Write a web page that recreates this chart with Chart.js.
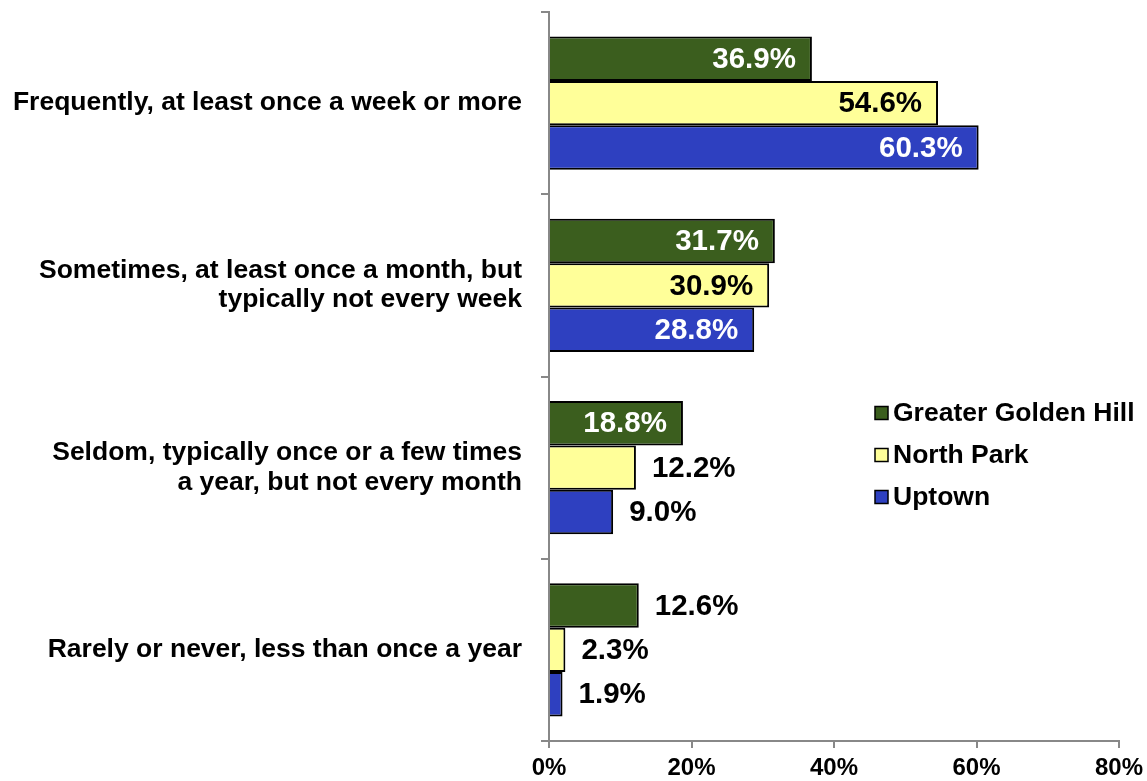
<!DOCTYPE html>
<html>
<head>
<meta charset="utf-8">
<script src="https://cdn.jsdelivr.net/npm/chart.js@4/dist/chart.umd.min.js"></script>
<style>
  html, body { margin: 0; padding: 0; background: #fff; }
  #wrap { width: 1147px; height: 781px; position: relative; }
</style>
</head>
<body>
<div id="wrap"><canvas id="c"></canvas></div>
<script>
const categories = [
  ["Frequently, at least once a week or more"],
  ["Sometimes, at least once a month, but", "typically not every week"],
  ["Seldom, typically once or a few times", "a year, but not every month"],
  ["Rarely or never, less than once a year"]
];
const seriesNames = ["Greater Golden Hill", "North Park", "Uptown"];
const goldenHill = [36.9, 31.7, 18.8, 12.6];
const northPark = [54.6, 30.9, 12.2, 2.3];
const uptown = [60.3, 28.8, 9.0, 1.9];
const xTicks = [0, 20, 40, 60, 80];

const colors = ["#3B5E1E", "#FFFF99", "#2E40C0"];
const insideText = ["#FFFFFF", "#000000", "#FFFFFF"];
const FONT = "'Liberation Sans', Arial, Helvetica, sans-serif";

const labelPlugin = {
  id: 'barLabels',
  afterDatasetsDraw(chart) {
    const ctx = chart.ctx;
    ctx.save();
    ctx.font = "bold 29.5px " + FONT;
    ctx.textBaseline = 'middle';
    chart.data.datasets.forEach((ds, di) => {
      const meta = chart.getDatasetMeta(di);
      meta.data.forEach((bar, i) => {
        const v = ds.data[i];
        const txt = v.toFixed(1) + '%';
        const y = bar.y + 1;
        if (v >= 15) {
          ctx.fillStyle = insideText[di];
          ctx.textAlign = 'right';
          ctx.fillText(txt, bar.x - 16, y);
        } else {
          ctx.fillStyle = '#000';
          ctx.textAlign = 'left';
          ctx.fillText(txt, bar.x + 16, y);
        }
      });
    });
    ctx.restore();
  }
};

const legendPlugin = {
  id: 'customLegend',
  afterDraw(chart) {
    const ctx = chart.ctx;
    ctx.save();
    ctx.font = "bold 26.5px " + FONT;
    ctx.textBaseline = 'middle';
    ctx.textAlign = 'left';
    const x0 = 875, y0 = 413, step = 42, size = 13;
    chart.data.datasets.forEach((ds, di) => {
      const y = y0 + di * step;
      ctx.fillStyle = ds.backgroundColor;
      ctx.fillRect(x0, y - size / 2, size, size);
      ctx.strokeStyle = '#000';
      ctx.lineWidth = 1.5;
      ctx.strokeRect(x0, y - size / 2, size, size);
      ctx.fillStyle = '#000';
      ctx.fillText(ds.label, x0 + 18, y + 1);
    });
    ctx.restore();
  }
};

const datasets = [goldenHill, northPark, uptown].map((d, i) => ({
  label: seriesNames[i],
  data: d,
  backgroundColor: colors[i],
  borderColor: '#000',
  borderWidth: 2,
  categoryPercentage: 0.73,
  barPercentage: 1.0
}));

new Chart(document.getElementById('c'), {
  type: 'bar',
  data: { labels: categories, datasets },
  plugins: [labelPlugin, legendPlugin],
  options: {
    indexAxis: 'y',
    responsive: true,
    maintainAspectRatio: false,
    animation: false,
    layout: { padding: { top: 12, right: 28, left: 0, bottom: 0 } },
    plugins: { legend: { display: false }, tooltip: { enabled: false } },
    scales: {
      x: {
        min: 0, max: 80,
        afterBuildTicks(scale) { scale.ticks = xTicks.map(v => ({ value: v })); },
        ticks: {
          callback: v => v + '%',
          color: '#000',
          font: { family: FONT, size: 24, weight: 'bold' },
          padding: 6,
          maxRotation: 0
        },
        grid: { drawOnChartArea: false, drawTicks: true, tickLength: 7, color: '#888', lineWidth: 2 },
        border: { display: true, color: '#888', width: 2 },
        afterFit(scale) { scale.height = 40; scale.paddingLeft = 0; scale.paddingRight = 0; }
      },
      y: {
        ticks: {
          color: '#000',
          font: { family: FONT, size: 26.5, weight: 'bold', lineHeight: 1.1 },
          padding: 19
        },
        grid: { drawOnChartArea: false, drawTicks: true, tickLength: 8, color: '#888', lineWidth: 2, offset: true },
        border: { display: true, color: '#888', width: 2 },
        afterFit(scale) { scale.width = 549; scale.paddingTop = 0; scale.paddingBottom = 0; }
      }
    }
  }
});
</script>
</body>
</html>
